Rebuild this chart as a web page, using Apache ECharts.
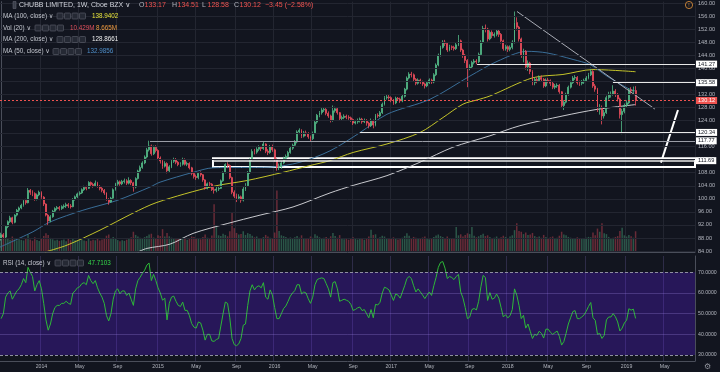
<!DOCTYPE html>
<html><head><meta charset="utf-8">
<script src="https://cdn.jsdelivr.net/npm/echarts@6/dist/echarts.min.js"></script>
<style>html,body{margin:0;padding:0;background:#12151f}#c{width:720px;height:372px}</style>
</head><body><div id="c"></div>
<script>
// ---------- DATA ----------
const startDate = Date.UTC(2013, 8, 2);   // first weekly bar (Mon)
const weekCount = 310;                    // visible weeks incl. empty future space
const monthNames = ['Jan','Feb','Mar','Apr','May','Jun','Jul','Aug','Sep','Oct','Nov','Dec'];

// weekly candles [open, close, low, high]
const ohlc = [
[88.0,89.0,87.2,89.6],[89.0,88.3,87.6,89.5],[88.3,91.5,88.0,91.9],[91.5,93.0,91.0,93.4],[93.0,94.2,92.6,94.8],
[94.2,92.8,92.2,94.5],[92.8,95.0,92.5,95.3],[95.0,96.5,94.6,96.9],[96.5,97.2,95.8,97.6],[97.2,98.0,96.8,98.5],
[98.0,99.5,97.6,99.9],[99.5,98.8,98.2,100.0],[98.8,102.6,98.6,103.3],[102.6,102.0,101.2,103.0],[102.0,101.6,100.8,102.6],
[101.6,99.8,99.4,102.0],[99.8,101.2,99.5,101.6],[101.2,102.0,100.8,102.5],[102.0,100.5,100.0,102.3],[100.5,98.4,97.8,100.8],
[98.4,95.0,94.6,98.6],[95.0,93.2,92.0,95.4],[93.2,94.5,92.8,95.0],[94.5,96.2,94.2,96.6],[96.2,97.0,95.8,97.4],
[97.0,97.3,96.5,97.8],[97.3,97.0,96.4,97.8],[97.0,97.6,96.6,98.0],[97.6,97.8,97.0,98.3],[97.8,98.2,97.2,98.8],
[98.2,97.8,97.2,98.7],[97.8,97.6,97.0,98.4],[97.6,99.8,97.4,100.2],[99.8,100.6,99.4,101.0],[100.6,101.5,100.2,101.9],
[101.5,101.8,101.0,102.3],[101.8,102.8,101.5,103.2],[102.8,103.5,102.4,104.0],[103.5,103.2,102.6,104.0],[103.2,105.0,103.0,105.4],
[105.0,104.4,103.8,105.3],[104.4,104.0,103.4,104.9],[104.0,104.8,103.6,105.6],[104.8,103.8,103.4,105.2],[103.8,103.2,102.6,104.2],
[103.2,102.6,102.0,103.6],[102.6,101.8,101.2,103.0],[101.8,99.8,99.4,102.0],[99.8,99.0,98.2,100.2],[99.0,100.2,98.8,100.6],
[100.2,102.8,100.0,103.2],[102.8,104.5,102.5,104.9],[104.5,105.2,104.0,105.8],[105.2,104.6,104.0,105.6],[104.6,105.3,104.2,105.8],
[105.3,105.5,104.7,106.2],[105.5,104.8,104.2,106.0],[104.8,105.6,104.4,106.6],[105.6,104.9,104.2,106.0],[104.9,103.6,102.2,105.2],
[103.6,106.2,103.2,106.6],[106.2,108.5,105.9,108.9],[108.5,109.6,108.0,110.2],[109.6,111.0,109.2,111.5],[111.0,112.8,110.6,113.3],
[112.8,115.0,112.4,115.6],[115.0,116.2,114.5,117.8],[116.2,113.8,113.2,116.6],[113.8,115.8,113.4,116.3],[115.8,114.8,114.2,116.4],
[114.8,112.5,112.0,115.2],[112.5,111.6,110.8,113.0],[111.6,110.0,109.2,112.0],[110.0,110.8,109.6,111.5],[110.8,108.6,107.8,111.2],
[108.6,109.8,108.2,110.3],[109.8,111.5,109.4,112.0],[111.5,112.0,111.0,112.6],[112.0,111.2,110.6,112.5],[111.2,110.5,110.0,111.6],
[110.5,110.6,109.8,111.2],[110.6,112.0,110.2,112.6],[112.0,110.6,110.2,112.4],[110.6,110.8,110.0,111.4],[110.8,109.5,109.0,111.2],
[109.5,107.8,107.2,109.8],[107.8,106.8,106.2,108.2],[106.8,106.5,105.8,107.4],[106.5,107.8,106.0,108.2],[107.8,107.4,106.8,108.4],
[107.4,105.8,105.2,107.6],[105.8,103.2,102.8,106.0],[103.2,104.6,102.9,105.0],[104.6,104.5,103.8,105.2],[104.5,102.8,102.4,104.8],
[102.8,102.6,101.6,103.6],[102.6,103.0,102.0,103.8],[103.0,103.2,102.4,103.9],[103.2,105.5,103.0,105.9],[105.5,108.0,105.2,108.4],
[108.0,110.5,107.8,110.9],[110.5,110.2,109.4,111.2],[110.2,106.5,106.0,110.5],[106.5,102.0,101.4,106.8],[102.0,100.8,100.2,102.6],
[100.8,100.2,99.0,101.6],[100.2,100.6,99.6,101.4],[100.6,99.6,98.8,101.0],[99.6,103.0,99.2,103.6],[103.0,104.0,102.4,104.8],
[104.0,108.0,103.6,108.5],[108.0,112.0,107.6,112.4],[112.0,114.5,111.6,115.2],[114.5,114.3,113.6,115.3],[114.3,115.2,113.8,115.8],
[115.2,115.8,114.6,116.4],[115.8,115.4,114.6,116.2],[115.4,116.8,115.0,117.4],[116.8,114.6,114.0,117.0],[114.6,114.2,113.4,115.2],
[114.2,116.0,113.8,116.5],[116.0,115.0,114.4,116.6],[115.0,112.0,111.4,115.4],[112.0,109.6,108.6,112.4],[109.6,109.8,108.8,110.8],
[109.8,111.0,109.2,111.6],[111.0,112.4,110.6,112.9],[112.4,113.0,111.8,113.6],[113.0,114.2,112.6,114.7],[114.2,115.5,113.8,116.0],
[115.5,116.4,115.0,116.9],[116.4,117.4,116.0,118.0],[117.4,120.5,117.0,121.0],[120.5,121.0,119.8,121.6],[121.0,119.2,118.6,121.3],
[119.2,120.2,118.8,120.8],[120.2,120.0,119.2,120.9],[120.0,119.0,118.4,120.4],[119.0,118.4,117.6,119.4],[118.4,120.0,118.0,120.6],
[120.0,123.5,119.8,123.9],[123.5,125.6,123.0,126.0],[125.6,126.4,125.0,126.9],[126.4,127.2,125.8,127.8],[127.2,127.4,126.6,128.0],
[127.4,126.2,125.6,127.8],[126.2,125.4,124.8,126.8],[125.4,124.0,123.4,125.8],[124.0,127.0,123.6,128.6],[127.0,127.6,126.4,128.2],
[127.6,126.4,125.8,127.9],[126.4,124.6,124.0,126.6],[124.6,124.9,124.0,125.5],[124.9,125.3,124.4,125.9],[125.3,125.0,124.4,125.8],
[125.0,124.8,124.2,125.6],[124.8,124.3,123.6,125.2],[124.3,123.2,122.6,124.6],[123.2,123.6,122.8,124.2],[123.6,124.0,123.0,124.6],
[124.0,124.4,123.4,124.9],[124.4,123.6,123.0,124.8],[123.6,124.0,123.2,124.6],[124.0,123.2,122.4,124.4],[123.2,122.4,121.6,123.6],
[122.4,124.0,122.0,124.6],[124.0,122.6,121.6,124.3],[122.6,125.6,122.2,126.0],[125.6,125.4,124.8,126.2],[125.4,126.4,125.0,126.9],
[126.4,129.0,126.0,129.5],[129.0,131.0,128.6,131.5],[131.0,131.2,130.4,131.8],[131.2,131.0,130.4,131.8],[131.0,130.2,129.6,131.4],
[130.2,129.4,128.8,130.6],[129.4,130.8,129.0,131.3],[130.8,130.6,130.0,131.2],[130.6,130.0,129.4,131.0],[130.0,131.4,129.6,131.9],
[131.4,133.6,131.0,134.0],[133.6,137.0,133.2,137.5],[137.0,138.2,136.6,138.8],[138.2,138.0,137.2,138.9],[138.0,136.6,136.0,138.4],
[136.6,135.4,134.8,137.0],[135.4,136.4,135.0,136.9],[136.4,135.8,135.2,136.8],[135.8,135.2,134.6,136.2],[135.2,134.6,133.8,135.6],
[134.6,135.6,134.2,136.0],[135.6,136.4,135.2,136.9],[136.4,135.8,135.2,136.8],[135.8,138.0,135.4,138.5],[138.0,141.0,137.6,141.5],
[141.0,144.0,140.6,144.5],[144.0,146.4,143.6,146.9],[146.4,148.0,146.0,148.6],[148.0,147.6,146.8,148.7],[147.6,145.6,145.0,147.9],
[145.6,146.6,145.2,147.2],[146.6,146.4,145.6,147.0],[146.4,146.0,145.4,146.9],[146.0,147.2,145.6,147.8],[147.2,148.4,146.8,150.2],
[148.4,145.6,145.0,148.8],[145.6,144.0,143.2,146.0],[144.0,142.4,141.6,144.4],[142.4,140.0,134.2,142.8],[140.0,140.4,139.4,141.2],
[140.4,141.8,140.0,142.3],[141.8,142.2,141.2,142.8],[142.2,142.0,141.2,142.8],[142.0,144.2,141.6,144.8],[144.2,148.0,143.8,148.6],
[148.0,152.2,147.6,153.0],[152.2,152.0,151.0,153.4],[152.0,149.0,148.2,152.4],[149.0,151.0,148.6,151.6],[151.0,150.0,149.2,151.6],
[150.0,150.4,149.4,151.0],[150.4,151.4,149.8,152.0],[151.4,150.4,149.6,151.8],[150.4,148.4,147.6,150.8],[148.4,146.0,145.4,148.8],
[146.0,146.6,145.4,147.2],[146.6,145.8,145.0,147.0],[145.8,146.4,145.2,147.0],[146.4,148.0,145.8,148.6],[148.0,154.0,147.6,157.4],
[154.0,152.6,151.6,155.6],[152.6,149.0,148.2,153.0],[149.0,144.0,143.2,149.4],[144.0,145.2,141.8,146.0],[145.2,140.4,139.6,145.6],
[140.4,141.6,139.2,142.4],[141.6,139.0,138.2,142.0],[139.0,135.6,134.8,139.4],[135.6,136.6,134.8,137.2],[136.6,136.2,135.4,137.2],
[136.2,137.2,135.8,137.8],[137.2,136.6,136.0,137.8],[136.6,134.6,134.0,137.0],[134.6,136.4,134.2,136.9],[136.4,136.2,135.4,137.0],
[136.2,135.4,134.6,136.6],[135.4,134.2,133.6,135.8],[134.2,134.6,133.6,135.2],[134.6,134.8,134.0,135.4],[134.8,132.8,132.2,135.2],
[132.8,128.6,127.8,133.0],[128.6,129.6,127.2,130.2],[129.6,132.0,129.2,132.5],[132.0,134.2,131.6,134.7],[134.2,135.6,133.8,136.2],
[135.6,137.0,135.2,137.6],[137.0,137.2,136.4,137.9],[137.2,135.6,135.0,137.6],[135.6,135.4,134.6,136.2],[135.4,135.8,134.8,136.4],
[135.8,136.2,135.2,136.8],[136.2,137.0,135.8,137.6],[137.0,138.0,136.6,138.6],[138.0,139.0,137.6,140.2],[139.0,134.6,134.0,139.4],
[134.6,133.6,132.8,135.2],[133.6,127.6,126.6,134.0],[127.6,128.0,125.8,129.0],[128.0,125.4,122.8,128.6],[125.4,126.4,124.6,127.2],
[126.4,131.0,126.0,131.6],[131.0,132.0,130.4,132.8],[132.0,132.0,131.0,132.9],[132.0,133.0,131.6,134.8],[133.0,132.0,131.2,133.6],
[132.0,130.6,129.8,132.4],[130.6,125.8,124.6,131.0],[125.8,126.8,119.8,127.6],[126.8,128.6,126.2,129.2],[128.6,129.4,128.0,130.2],
[129.4,133.4,129.0,133.9],[133.4,133.0,132.2,134.2],[133.0,133.17,132.2,134.4],[133.17,130.12,128.58,134.51]
];

// weekly volume, millions
const volumes = [
7.2,6.5,8.4,7.0,6.2,7.8,6.4,5.9,6.8,6.1, 5.8,6.6,8.9,6.3,5.7,7.4,6.0,5.5,6.9,8.1,
9.4,8.6,7.1,6.4,5.8,6.2,5.6,5.9,6.3,5.4, 6.8,5.9,6.5,6.1,5.7,6.0,6.4,5.8,5.5,6.9,
5.6,6.2,5.9,6.6,5.8,6.3,7.0,8.2,8.8,7.1, 7.6,6.8,6.0,5.4,5.9,5.6,6.2,6.7,7.4,10.2,
8.6,7.8,7.2,6.9,7.5,8.0,8.8,9.2,7.3,7.0, 8.4,8.0,11.5,7.8,9.6,7.9,7.2,6.8,6.4,7.0,
6.6,7.3,6.9,6.2,7.1,7.8,7.5,6.8,6.9,6.4, 7.6,8.8,7.2,6.5,8.3,24.0,12.5,8.4,8.0,9.2,
8.6,7.9,10.5,20.0,12.0,9.6,8.8,9.0,10.4,8.6, 9.5,9.0,8.2,7.4,7.8,7.1,6.9,7.5,8.6,7.8,
7.2,7.0,9.8,31.0,10.6,8.4,8.0,7.6,7.1,7.3, 6.9,7.4,8.0,7.2,8.4,6.8,6.6,7.0,7.8,7.2,
8.9,8.2,7.4,6.9,7.2,7.6,6.8,7.9,9.6,8.0, 7.2,8.5,6.9,6.4,6.8,6.2,6.6,7.4,6.7,6.3,
6.9,6.5,6.2,7.0,7.8,11.2,8.6,8.9,7.0,7.4, 8.2,7.8,6.8,6.5,7.1,7.4,6.6,6.3,6.9,7.2,
8.1,9.4,8.2,7.0,7.6,7.2,6.6,6.9,7.3,7.8, 6.8,6.4,6.7,7.6,8.3,8.8,8.0,7.6,7.0,7.8,
6.9,6.5,6.8,12.6,8.4,8.9,7.8,8.6,9.4,9.0, 12.6,8.2,7.4,7.9,8.6,9.2,8.0,8.4,7.6,6.9,
7.2,7.8,6.8,7.4,8.2,7.6,7.0,7.8,8.4,11.0, 14.5,10.6,10.2,9.0,9.8,8.6,8.8,9.6,8.0,7.4,
7.8,7.2,8.6,7.6,7.0,7.4,7.8,6.9,7.2,8.2, 10.2,8.8,8.4,7.6,7.2,7.0,6.6,7.4,6.8,6.5,
6.9,7.2,7.6,7.4,9.8,8.4,11.8,10.2,14.5,9.4, 9.0,7.6,6.8,7.2,7.6,8.0,10.6,12.2,8.4,7.8,
8.6,7.9,7.2,10.43
];

// RSI(14) weekly
const rsi = [
47.6,50,58,60,61,57,59,61,62,64, 67,65,72.4,70,68,61,64,66,62,55,
47,42,45,50,53,54,54,55,55,56, 55,54.5,60,61,62.5,63,64.5,65,64,68.5,
66,64.5,66,62.5,60,58,55,49,46.5,50, 57,61,62,59.6,61,61,58.8,60,57,54,
62,66,67.6,69.5,71,73.5,74.5,66,69,66, 62.5,60,56.5,57.5,47,55,58,58.5,56,54,
53.5,55.6,51.6,51.6,49,45.2,43.5,43,46,45.5, 42,37.2,40,40,36.8,36.6,37.5,38,44,50,
55.6,55,48,38,35,34.5,35.4,38,44.4,45, 54,61,64,61.5,63,63.5,62.5,65,58,57,
61.5,59,53,47.6,47.6,50,52.5,53.7,56,58.5, 60,61.2,64,64,59.6,60.5,60,57.2,55,58,
64,66.5,67,67.3,67,64.5,62,58,65,65.5, 62,56,56.5,57,56.5,56,54.5,51.6,52,52.8,
53.2,51.5,52,50,48,52,48,54.5,54.2,55.5, 60,62.8,62.3,61.5,59,56.4,59.5,59,57.5,60.5,
63.5,67,68,67,63.5,60.5,62,60.5,59,57.3, 59,60.5,58.8,63.5,67.5,72.4,74.8,75.2,72,67,
68,67.5,66.5,68,69,60.5,57.6,53,47.6,48.3, 52,52.5,51.8,56,63,68.5,67.5,56.4,60.2,57,
57.5,59.5,57.5,53,48.4,49.5,48,49,52,62, 59,54,47.6,49.2,43,45,41.5,38,40,39.5,
41.5,40.5,38.2,42.5,42.5,41,40,40.8,41.6,39, 34.8,36.5,40.5,45,48,51,51.5,47.6,47.6,48.4,
49.4,51.2,53.5,55.4,48,46.8,40,40.5,38,39.5, 47,48.4,48.4,50,48.5,46,41.6,43,45.5,46.8,
52.4,51.7,52.2,47.71
];

// moving averages: [week index, value]
const ma100 = [[19.6,83.7],[29.4,85.8],[44.1,90.4],[58.8,95.6],[69.5,98.9],[94.5,103.8],[109.7,105.6],[125.7,108.1],[137.8,110.2],[146.7,111.7],[157,114.2],[172.1,116.8],[186.8,120.3],[197.1,124.9],[206,129],[212.3,130.3],[218,131.5],[237.2,137.1],[250.6,138.1],[264,139.6],[283,138.94]];
const ma50 = [[-0.5,85.2],[14.2,89.9],[21.8,92.9],[36.5,96.5],[51.7,99.5],[66.4,103.6],[70.9,105.1],[85.6,108.1],[94.5,109.5],[119.9,109.7],[133.3,111.2],[146.7,114.7],[160.1,120.3],[172.1,125.9],[191.3,130.5],[209.1,137.6],[221.2,142.1],[234.6,145.2],[243.5,144.7],[255.1,142.7],[262.7,141.1],[270.2,137.6],[279.2,134],[283,132.99]];
const ma200 = [[61,83.7],[65,84.8],[75.3,86.1],[85.6,89.4],[100.8,92.4],[115.5,95],[130.2,97.5],[146.7,101.8],[157,104.1],[172.1,107.1],[186.8,111.2],[201.5,115.8],[218,119.3],[231.4,122.4],[250.6,125.4],[265.8,127.4],[283,128.87]];

// drawings: horizontal levels [price, first week]
const levelPrices = [141.27, 135.58, 120.34, 117.77, 111.69];
const levelStarts = [212.3, 272.9, 160.1, 66.4, 94.5];
const zoneBox = [[94.5, 112.45], [309.5, 109.75]];
const trendDown = [[230.1, 157.4], [291.6, 127.5]];
const projection = [[294.3, 111.1], [301.9, 127.2]];
const lastPrice = 130.12;

// axis ticks
const priceTicks = [84,88,92,96,100,104,108,112,116,120,124,128,132,136,140,144,148,152,156,160];
const rsiTicks = [30,40,50,60,70];

// legend texts
const legendTitle = 'CHUBB LIMITED, 1W, Cboe BZX';
const ohlcLegend = [['O','133.17'],['H','134.51'],['L','128.58'],['C','130.12']];
const changeText = '\u22123.45 (\u22122.58%)';
const indicatorRows = [
  {label:'MA (100, close)', values:['138.9402']},
  {label:'Vol (20)', values:['10.429M','8.665M']},
  {label:'MA (200, close)', values:['128.8661']},
  {label:'MA (50, close)', values:['132.9856']}
];
const rsiLegend = {label:'RSI (14, close)', value:'47.7103'};

// ---------- CHART ----------
const weeks = [];
for (let i = 0; i < weekCount; i++) weeks.push(new Date(startDate + i * 7 * 86400000));
const categories = weeks.map(d => d.toISOString().slice(0, 10));
const isTick = (idx) => { const d = weeks[idx]; return idx > 4 && d.getUTCDate() <= 7 && d.getUTCMonth() % 4 === 0; };
const tickText = (idx) => { const d = weeks[idx]; return d.getUTCMonth() === 0 ? String(d.getUTCFullYear()) : monthNames[d.getUTCMonth()]; };

const FONT = '"Liberation Sans", "DejaVu Sans", sans-serif';
const UP = '#53b987', DOWN = '#eb4d5c';
const xEnd = weekCount - 0.5;

// legend graphics
const g = [];
function T(x, y, text, fill, size) {
  g.push({type:'text', x, y, silent:true, z:100, style:{text, fill, fontSize:size, fontFamily:FONT, verticalAlign:'middle', align:'left'}});
}
function boxes(x, y) {
  for (let k = 0; k < 4; k++) g.push({type:'rect', silent:true, z:100, shape:{x: x + k*7.5, y: y-3, width:6, height:6, r:0.8}, style:{fill:'#252934', stroke:'#5f636e', lineWidth:0.6}});
}
g.push({type:'rect', silent:true, z:100, shape:{x:13, y:1.5, width:3, height:7}, style:{fill:'#3a3e4a', stroke:'#6a6d78', lineWidth:0.5}});
T(19, 5, legendTitle + ' \u2228', '#d1d4dc', 7);
const ohlcX = [139, 172, 202, 234];
ohlcLegend.forEach((p, k) => { T(ohlcX[k], 5, p[0], '#b2b5be', 7); T(ohlcX[k] + 5.5, 5, p[1], '#ef5350', 7); });
T(265, 5, changeText, '#ef5350', 7);
const rowY = [16, 28, 39.5, 51.5];
const rowBoxX = [57, 35, 57, 53];
const rowValX = [[92], [70, 96], [92], [87]];
const rowValColor = [['#e6e33a'], ['#e0505c', '#ee9a3f'], ['#eeeeee'], ['#4e8ec8']];
indicatorRows.forEach((r, k) => {
  T(3, rowY[k], r.label + ' \u2228', '#c3c6ce', 6.3);
  boxes(rowBoxX[k], rowY[k]);
  r.values.forEach((v, j) => T(rowValX[k][j], rowY[k], v, rowValColor[k][j], 6.3));
});
T(3, 263, rsiLegend.label + ' \u2228', '#c3c6ce', 6.3);
boxes(55, 263);
T(88, 263, rsiLegend.value, '#35d94a', 6.3);
g.push({type:'circle', silent:true, z:100, shape:{cx:689, cy:5, r:3.6}, style:{fill:'rgba(0,0,0,0)', stroke:'#e8963a', lineWidth:0.8}});
g.push({type:'text', silent:true, z:100, x:689, y:5.2, style:{text:'!', fill:'#e8963a', fontSize:5, fontFamily:FONT, align:'center', verticalAlign:'middle'}});
T(704, 367, '\u2699', '#8f929b', 8);

const axisLabelStyle = {color:'#b2b5be', fontFamily:FONT};

const levelLines = levelPrices.map((p, k) => [
  {coord:[levelStarts[k], p], name:p.toFixed(2), lineStyle:{color: k === 3 ? '#9a9da6' : '#e8e8e8', width: k === 4 ? 1.5 : 1, type:'solid'}},
  {coord:[xEnd, p]}
]);

const option = {
  animation:false,
  backgroundColor:'#12151f',
  graphic:g,
  grid:[
    {left:0, right:25, top:0, height:252},
    {left:0, right:25, top:256, height:105}
  ],
  xAxis:[
    {type:'category', gridIndex:0, data:categories, boundaryGap:true,
     axisLine:{show:true, lineStyle:{color:'#4a4e5a'}}, axisTick:{show:false}, axisLabel:{show:false},
     splitLine:{show:true, interval:(i)=>isTick(i), lineStyle:{color:'#232631', width:1}}},
    {type:'value', gridIndex:0, min:-0.5, max:xEnd, show:false},
    {type:'category', gridIndex:1, data:categories, boundaryGap:true,
     axisLine:{show:true, lineStyle:{color:'#4a4e5a'}}, axisTick:{show:false},
     axisLabel:Object.assign({show:true, interval:(i)=>isTick(i), formatter:(v,i)=>tickText(i), fontSize:5.2, margin:3}, axisLabelStyle),
     splitLine:{show:true, interval:(i)=>isTick(i), lineStyle:{color:'#2e2c48', width:1}}}
  ],
  yAxis:[
    {type:'value', gridIndex:0, position:'right', min:83.70, max:160.41, scale:true,
     axisLine:{show:true, lineStyle:{color:'#4a4e5a'}}, axisTick:{show:false}, splitLine:{show:false},
     axisLabel:Object.assign({customValues:priceTicks, formatter:(v)=>Number(v).toFixed(2), fontSize:5.6, margin:3}, axisLabelStyle)},
    {type:'value', gridIndex:0, min:0, max:126, show:false},
    {type:'value', gridIndex:1, position:'right', min:27.1, max:77.9, scale:true,
     axisLine:{show:true, lineStyle:{color:'#4a4e5a'}}, axisTick:{show:false}, splitLine:{show:false},
     axisLabel:Object.assign({customValues:rsiTicks, formatter:(v)=>Number(v).toFixed(4), fontSize:5.2, margin:3}, axisLabelStyle)}
  ],
  series:[
    { // price grid lines
      type:'line', xAxisIndex:1, yAxisIndex:0, data:[], z:0, silent:true,
      markLine:{silent:true, symbol:['none','none'], label:{show:false}, lineStyle:{color:'#232631', width:1, type:'solid'},
        data: priceTicks.map(v => ({yAxis:v}))}
    },
    { // volume
      type:'bar', xAxisIndex:0, yAxisIndex:1, barWidth:1.5, z:1, silent:true,
      data: volumes.map((v,i) => ({value:v, itemStyle:{color: ohlc[i][1] >= ohlc[i][0] ? 'rgba(83,185,135,0.4)' : 'rgba(235,77,92,0.4)'}}))
    },
    {type:'line', name:'MA100', xAxisIndex:1, yAxisIndex:0, data:ma100, showSymbol:false, smooth:0.3, z:2, silent:true, lineStyle:{color:'#c4c42a', width:1}},
    {type:'line', name:'MA50', xAxisIndex:1, yAxisIndex:0, data:ma50, showSymbol:false, smooth:0.3, z:2, silent:true, lineStyle:{color:'#3a6e98', width:1}},
    {type:'line', name:'MA200', xAxisIndex:1, yAxisIndex:0, data:ma200, showSymbol:false, smooth:0.3, z:2, silent:true, lineStyle:{color:'#c9cacf', width:1}},
    { // candles
      type:'candlestick', xAxisIndex:0, yAxisIndex:0, data:ohlc, barWidth:1.4, z:3, silent:true,
      itemStyle:{color:UP, color0:DOWN, borderColor:UP, borderColor0:DOWN, borderWidth:0.8}
    },
    { // drawings
      type:'line', xAxisIndex:1, yAxisIndex:0, data:trendDown, showSymbol:false, z:4, silent:true,
      lineStyle:{color:'#a9acb5', width:1},
      markLine:{silent:true, symbol:['none','none'],
        label:{show:true, position:'end', formatter:'{b}', distance:1, fontSize:5.6, fontFamily:FONT,
               color:'#131722', backgroundColor:'#ffffff', padding:[1,2,0,2]},
        data: levelLines.concat([{yAxis:lastPrice, name:lastPrice.toFixed(2),
               lineStyle:{color:'#ef5350', width:1, type:[2,2]},
               label:{color:'#ffffff', backgroundColor:'#ef5350'}}])},
      markArea:{silent:true, itemStyle:{color:'rgba(0,0,0,0)', borderColor:'#ffffff', borderWidth:2},
        data:[[{coord:zoneBox[0]}, {coord:zoneBox[1]}]]}
    },
    {type:'line', xAxisIndex:1, yAxisIndex:0, data:projection, showSymbol:false, z:4, silent:true, lineStyle:{color:'#ffffff', width:2}},
    { // RSI
      type:'line', xAxisIndex:2, yAxisIndex:2, data:rsi, showSymbol:false, z:3, silent:true,
      lineStyle:{color:'#2db838', width:1},
      markArea:{silent:true, itemStyle:{color:'rgba(100,30,255,0.26)'}, data:[[{yAxis:70},{yAxis:30}]]},
      markLine:{silent:true, symbol:['none','none'], label:{show:false},
        data:[
          {yAxis:70, lineStyle:{color:'#8e8fa0', type:[3,2], width:1}},
          {yAxis:30, lineStyle:{color:'#8e8fa0', type:[3,2], width:1}},
          {yAxis:60, lineStyle:{color:'rgba(160,140,230,0.28)', type:'solid', width:1}},
          {yAxis:50, lineStyle:{color:'rgba(160,140,230,0.28)', type:'solid', width:1}},
          {yAxis:40, lineStyle:{color:'rgba(160,140,230,0.28)', type:'solid', width:1}}
        ]}
    }
  ]
};
const chart = echarts.init(document.getElementById('c'), null, {renderer:'canvas'});
chart.setOption(option);
</script>
</body></html>
